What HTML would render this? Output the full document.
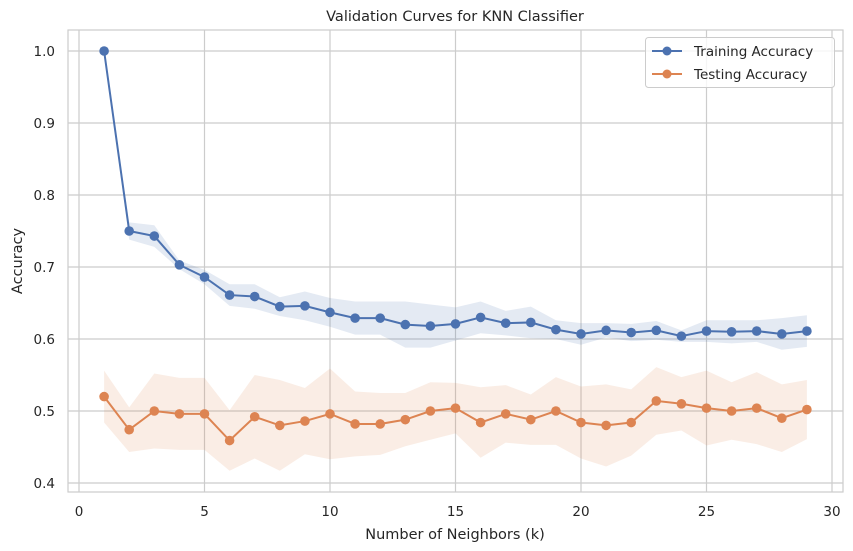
<!DOCTYPE html>
<html><head><meta charset="utf-8"><style>
html,body{margin:0;padding:0;background:#fff;}
svg{display:block;font-family:"DejaVu Sans","Liberation Sans",sans-serif;}
</style></head><body>
<svg id="chart" width="853" height="551" viewBox="0 0 853 551">
<text x="455" y="21" text-anchor="middle" font-size="14.5" fill="#262626">Validation Curves for KNN Classifier</text>
<g id="grid"></g>
<g id="bands"></g>
<g id="lines"></g>
<rect x="68" y="30" width="775" height="462" fill="none" stroke="#cccccc" stroke-width="1.2"/>
<g id="ticks"></g>
<text x="455" y="539" text-anchor="middle" font-size="14.5" fill="#262626">Number of Neighbors (k)</text>
<text transform="translate(22,261) rotate(-90)" text-anchor="middle" font-size="14.5" fill="#262626">Accuracy</text>
<g>
<rect x="645.5" y="37.5" width="189" height="50" rx="3" fill="#fff" fill-opacity="0.8" stroke="#cccccc"/>
<g>
<line x1="652" y1="51" x2="682" y2="51" stroke="#4c72b0" stroke-width="2"/><circle cx="667" cy="51" r="4.5" fill="#4c72b0"/>
<text x="694" y="56" font-size="13.5" fill="#262626">Training Accuracy</text></g>
<g>
<line x1="652" y1="74" x2="682" y2="74" stroke="#dd8452" stroke-width="2"/><circle cx="667" cy="74" r="4.5" fill="#dd8452"/>
<text x="694" y="79" font-size="13.5" fill="#262626">Testing Accuracy</text></g>
</g>
</svg>
<script>
const kValues=[1,2,3,4,5,6,7,8,9,10,11,12,13,14,15,16,17,18,19,20,21,22,23,24,25,26,27,28,29];
const trainMean=[1.0,0.75,0.743,0.703,0.686,0.661,0.659,0.645,0.646,0.637,0.629,0.629,0.620,0.618,0.621,0.630,0.622,0.623,0.613,0.607,0.612,0.609,0.612,0.604,0.611,0.610,0.611,0.607,0.611];
const trainStd=[0,0.012,0.015,0.006,0.01,0.015,0.017,0.013,0.02,0.02,0.023,0.023,0.032,0.03,0.023,0.022,0.017,0.022,0.013,0.015,0.01,0.012,0.013,0.008,0.015,0.016,0.015,0.022,0.022];
const testMean=[0.52,0.474,0.50,0.496,0.496,0.459,0.492,0.48,0.486,0.496,0.482,0.482,0.488,0.50,0.504,0.484,0.496,0.488,0.50,0.484,0.48,0.484,0.514,0.51,0.504,0.50,0.504,0.49,0.502];
const testStd=[0.036,0.031,0.052,0.05,0.05,0.042,0.058,0.063,0.046,0.063,0.045,0.043,0.037,0.04,0.035,0.049,0.04,0.035,0.047,0.05,0.057,0.046,0.047,0.037,0.052,0.04,0.05,0.047,0.041];
const xTicks=[0,5,10,15,20,25,30];
const yTicks=[0.4,0.5,0.6,0.7,0.8,0.9,1.0];
const NS="http://www.w3.org/2000/svg";
function xs(v){return 79+v*25.1;}
function ys(v){return 51+(1.0-v)*720;}
function mk(tag,attrs,parent){const e=document.createElementNS(NS,tag);for(const k in attrs)e.setAttribute(k,attrs[k]);parent.appendChild(e);return e;}
const grid=document.getElementById('grid'),ticks=document.getElementById('ticks'),bands=document.getElementById('bands'),lines=document.getElementById('lines');
xTicks.forEach(t=>{
  const l=mk('line',{x1:xs(t),x2:xs(t),y1:30,y2:492,stroke:'#cccccc','stroke-width':1.2},grid);
  
  
  const tx=mk('text',{x:xs(t),y:516,'text-anchor':'middle','font-size':13.5,fill:'#262626'},ticks);
  tx.textContent=t;
  
  
});
yTicks.forEach(t=>{
  const l=mk('line',{x1:68,x2:843,y1:ys(t),y2:ys(t),stroke:'#cccccc','stroke-width':1.2},grid);
  
  
  const tx=mk('text',{x:55,y:ys(t)+5,'text-anchor':'end','font-size':13.5,fill:'#262626'},ticks);
  tx.textContent=t.toFixed(1);
  
  
});
function band(mean,std,color,name){
  let up=kValues.map((k,i)=>xs(k)+','+ys(mean[i]+std[i]));
  let dn=kValues.map((k,i)=>xs(k)+','+ys(mean[i]-std[i])).reverse();
  const p=mk('polygon',{points:up.concat(dn).join(' '),fill:color,'fill-opacity':0.15},bands);
  
  
}
function series(mean,color,name){
  const pl=mk('polyline',{points:kValues.map((k,i)=>xs(k)+','+ys(mean[i])).join(' '),fill:'none',stroke:color,'stroke-width':2},lines);
  
  
  kValues.forEach((k,i)=>{
    const c=mk('circle',{cx:xs(k),cy:ys(mean[i]),r:4.8,fill:color},lines);
    
    
  });
}
band(trainMean,trainStd,'#4c72b0','training-std-band');
band(testMean,testStd,'#dd8452','testing-std-band');
series(trainMean,'#4c72b0','training-accuracy');
series(testMean,'#dd8452','testing-accuracy');
</script>
</body></html>
